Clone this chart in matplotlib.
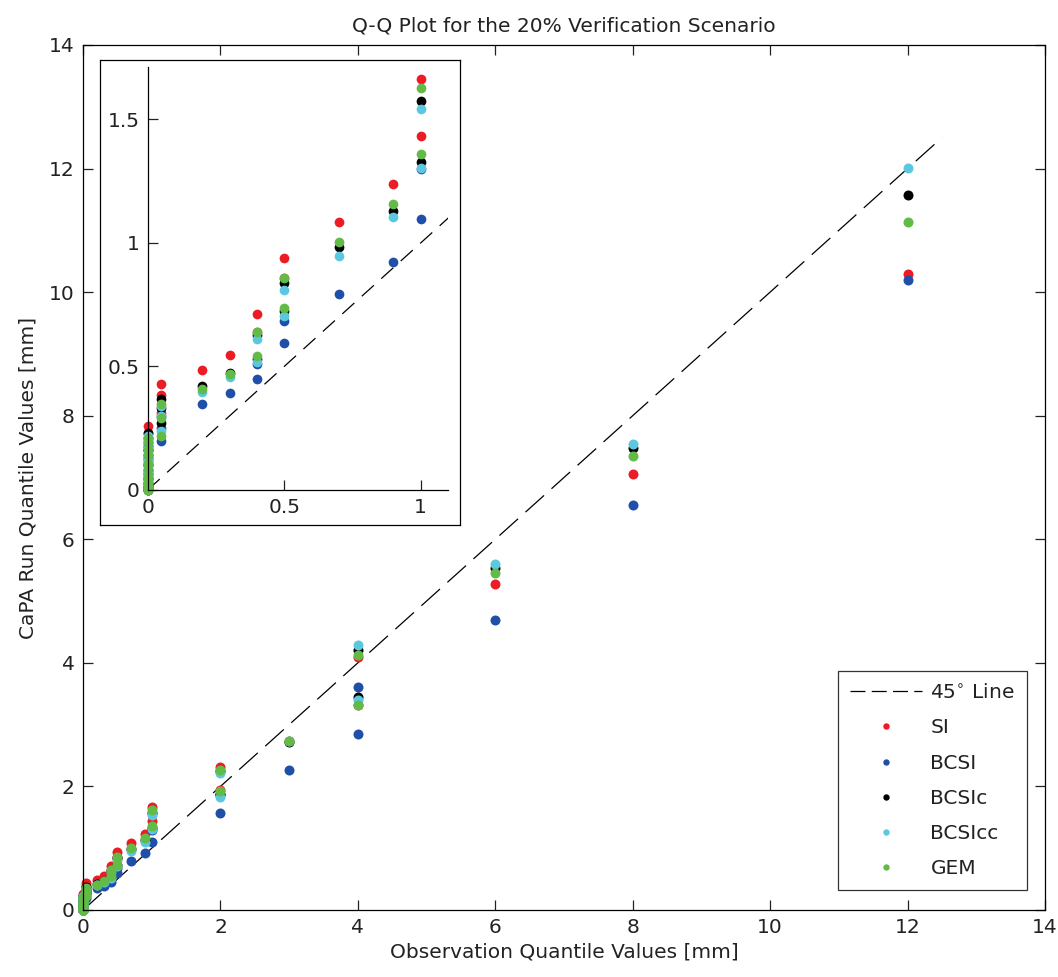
import matplotlib
matplotlib.use("Agg")
import matplotlib.pyplot as plt
from matplotlib.lines import Line2D

# ---- data -------------------------------------------------------------
obs = [0, 0, 0, 0, 0, 0, 0, 0, 0, 0, 0, 0, 0,
       0.05, 0.05, 0.05, 0.2, 0.3, 0.4, 0.4, 0.5, 0.5, 0.7, 0.9,
       1, 1, 2, 2, 3, 4, 4, 6, 8, 12]
SI = [0, 0, 0, 0.01, 0.03, 0.05, 0.08, 0.11, 0.14, 0.17, 0.20, 0.23, 0.26,
      0.31, 0.385, 0.43, 0.486, 0.545, 0.64, 0.712, 0.86, 0.939, 1.085, 1.237,
      1.433, 1.662, 1.94, 2.32, 2.73, 3.32, 4.10, 5.27, 7.05, 10.29]
BCSI = [0, 0, 0, 0.01, 0.02, 0.04, 0.06, 0.08, 0.10, 0.12, 0.14, 0.16, 0.19,
        0.20, 0.25, 0.30, 0.348, 0.391, 0.449, 0.509, 0.596, 0.684, 0.793, 0.925,
        1.098, 1.30, 1.57, 1.86, 2.27, 2.85, 3.61, 4.69, 6.55, 10.19]
BCSIc = [0, 0, 0, 0.01, 0.03, 0.05, 0.07, 0.10, 0.13, 0.16, 0.18, 0.21, 0.23,
         0.27, 0.33, 0.37, 0.421, 0.475, 0.530, 0.627, 0.726, 0.839, 0.982, 1.129,
         1.327, 1.576, 1.88, 2.25, 2.72, 3.45, 4.21, 5.53, 7.48, 11.57]
BCSIcc = [0, 0, 0, 0.01, 0.03, 0.05, 0.07, 0.10, 0.12, 0.15, 0.17, 0.20, 0.22,
          0.24, 0.30, 0.34, 0.398, 0.459, 0.519, 0.610, 0.704, 0.809, 0.947, 1.106,
          1.304, 1.543, 1.83, 2.22, 2.74, 3.40, 4.29, 5.60, 7.54, 12.01]
GEM = [0, 0, 0, 0.01, 0.02, 0.04, 0.06, 0.09, 0.11, 0.14, 0.16, 0.19, 0.21,
       0.22, 0.29, 0.35, 0.407, 0.469, 0.544, 0.641, 0.735, 0.857, 1.005, 1.157,
       1.362, 1.626, 1.92, 2.26, 2.73, 3.32, 4.13, 5.45, 7.35, 11.14]
series_names = ["SI", "BCSI", "BCSIc", "BCSIcc", "GEM"]
series_values = [SI, BCSI, BCSIc, BCSIcc, GEM]
line45 = [0, 12.5]
main_ticks = [0, 2, 4, 6, 8, 10, 12, 14]
inset_xticks = [0, 0.5, 1]
inset_yticks = [0, 0.5, 1, 1.5]
inset_xmax = 1.1
inset_ymax = 1.714

# ---- style ------------------------------------------------------------
colors = ["#ED1C24", "#1F4FA8", "#000000", "#5CC8E0", "#62BB46"]
txt = "#222222"
fs = 14.5
plt.rcParams["font.family"] = ["DejaVu Sans"]
plt.rcParams["text.color"] = txt
plt.rcParams["axes.labelcolor"] = txt
plt.rcParams["xtick.color"] = txt
plt.rcParams["ytick.color"] = txt

fig = plt.figure(figsize=(10.58, 9.77), dpi=100)

# main axes
ax = fig.add_axes([0.0785, 0.0686, 0.9092, 0.8854])
ax.plot(line45, line45, color="black", lw=0.9, dashes=(20, 8))
for name, vals, c in zip(series_names, series_values, colors):
    ax.plot(obs, vals, linestyle="none", marker="o", ms=7.2, mec="none",
            color=c, clip_on=False)
ax.set_xlim(0, 14)
ax.set_ylim(0, 14)
ax.set_xticks(main_ticks)
ax.set_yticks(main_ticks)
ax.tick_params(direction="in", top=True, right=True, length=7, width=0.9,
               labelsize=fs, pad=6)
for s in ax.spines.values():
    s.set_linewidth(0.9)
ax.set_xlabel("Observation Quantile Values [mm]", fontsize=fs, labelpad=4)
ax.set_ylabel("CaPA Run Quantile Values [mm]", fontsize=fs, labelpad=8)
ax.set_title("Q-Q Plot for the 20% Verification Scenario", fontsize=fs, pad=10)

handles = [Line2D([], [], color="black", lw=0.9, dashes=(12, 5))]
handles += [Line2D([], [], linestyle="none", marker="o", ms=4.6, mec="none", color=c)
            for c in colors]
labels = ["45$^{\\circ}$ Line"] + series_names
leg = ax.legend(handles, labels, loc="lower right", bbox_to_anchor=(0.9813, 0.0231),
                borderaxespad=0, fontsize=fs,
                frameon=True, fancybox=False, edgecolor="black",
                handlelength=3.6, handletextpad=0.4, labelspacing=0.8,
                borderpad=0.6)
leg.get_frame().set_linewidth(0.9)

# inset frame
frame = fig.add_axes([0.0945, 0.4626, 0.3403, 0.4760])
frame.set_xticks([])
frame.set_yticks([])
frame.set_facecolor("white")
for s in frame.spines.values():
    s.set_linewidth(0.9)

# inset axes
ins = fig.add_axes([0.1396, 0.4985, 0.2838, 0.4333])
ins.set_facecolor("none")
ins.plot(line45, line45, color="black", lw=0.9, dashes=(13, 8))
for vals, c in zip(series_values, colors):
    xs = [o for o in obs if o <= inset_xmax]
    ys = [v for o, v in zip(obs, vals) if o <= inset_xmax]
    ins.plot(xs, ys, linestyle="none", marker="o", ms=7.0, mec="none",
             color=c, clip_on=False)
ins.set_xlim(0, inset_xmax)
ins.set_ylim(0, inset_ymax)
ins.set_xticks(inset_xticks)
ins.set_xticklabels(["0", "0.5", "1"])
ins.set_yticks(inset_yticks)
ins.set_yticklabels(["0", "0.5", "1", "1.5"])
ins.spines["top"].set_visible(False)
ins.spines["right"].set_visible(False)
for s in ins.spines.values():
    s.set_linewidth(0.9)
ins.tick_params(direction="in", length=7, width=0.9, labelsize=fs, pad=6)

fig.savefig("out.png", dpi=100)
